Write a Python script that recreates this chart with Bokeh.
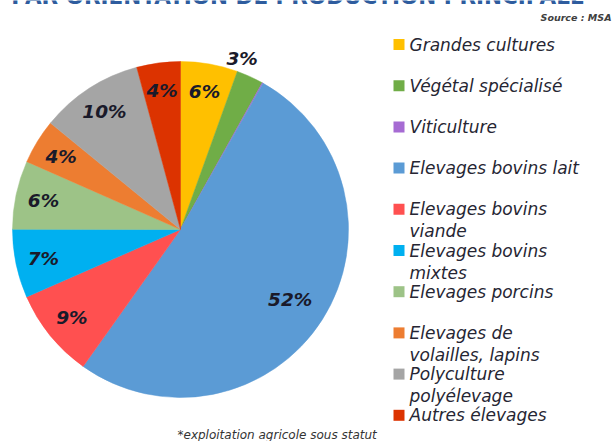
import numpy as np
from bokeh.plotting import figure
from bokeh.models import Range1d, ColumnDataSource
from bokeh.core.properties import value
from bokeh.embed import file_html
from bokeh.resources import INLINE

# ---------------- data ----------------
categories = ["Grandes cultures", "Végétal spécialisé", "Viticulture",
              "Elevages bovins lait", "Elevages bovins viande",
              "Elevages bovins mixtes", "Elevages porcins",
              "Elevages de volailles, lapins", "Polyculture polyélevage",
              "Autres élevages"]
legend_line1 = ["Grandes cultures", "Végétal spécialisé", "Viticulture",
                "Elevages bovins lait", "Elevages bovins", "Elevages bovins",
                "Elevages porcins", "Elevages de", "Polyculture",
                "Autres élevages"]
legend_line2 = ["", "", "", "", "viande", "mixtes", "", "volailles, lapins",
                "polyélevage", ""]
shares = [5.5, 2.6, 0.1, 51.7, 8.6, 6.6, 6.6, 4.3, 9.9, 4.2]
pct_labels = ["6%", "3%", "", "52%", "9%", "7%", "6%", "4%", "10%", "4%"]
colors = ["#FFC000", "#70AD47", "#A66BD3", "#5B9BD5", "#FF5050",
          "#00B0F0", "#9DC387", "#ED7D31", "#A5A5A5", "#DC3300"]
title_text = "PAR ORIENTATION DE PRODUCTION PRINCIPALE*"
source_text = "Source : MSA"
footer_text = "*exploitation agricole sous statut"

# ---------------- layout (picture pixel coordinates) ----------------
W, H = 615, 441


def Y(py):
    return H - py


p = figure(width=W, height=H, output_backend="svg", toolbar_location=None,
           x_range=Range1d(0, W), y_range=Range1d(0, H),
           min_border=0, outline_line_color=None)
p.axis.visible = False
p.grid.visible = False
p.background_fill_color = "white"
p.border_fill_color = "white"

cx, cy, R = 180, Y(229), 168

vals = np.array(shares, dtype=float)
fr = vals / vals.sum()
end_f = np.cumsum(fr)
start_f = end_f - fr
start_angle = np.pi / 2 - 2 * np.pi * end_f
end_angle = np.pi / 2 - 2 * np.pi * start_f

src = ColumnDataSource(dict(start=start_angle, end=end_angle, color=colors))
p.wedge(x=cx, y=cy, radius=R, start_angle="start", end_angle="end",
        fill_color="color", line_color="color", line_width=0.5, source=src)

# percentage labels
lx, ly, lt = [], [], []
for i, lab in enumerate(pct_labels):
    if not lab:
        continue
    if fr[i] < 0.04:
        th = np.pi / 2 - 2 * np.pi * start_f[i]
        rl = 182
    elif fr[i] > 0.4:
        th = np.pi / 2 - 2 * np.pi * (start_f[i] + fr[i] / 2)
        rl = 130
    else:
        th = np.pi / 2 - 2 * np.pi * (start_f[i] + fr[i] / 2)
        rl = 140
    lx.append(cx + rl * np.cos(th))
    ly.append(cy + rl * np.sin(th))
    lt.append(lab)
p.text(x=lx, y=ly, text=lt, text_align="center", text_baseline="middle",
       text_font=value("DejaVu Sans"), text_font_size="18.5px",
       text_font_style="bold italic", text_color="#1a1a2a")

# legend
row0, step = 44, 41.2
ry = [Y(row0 + step * i) for i in range(len(categories))]
p.rect(x=[398.5] * len(ry), y=ry, width=11, height=11, fill_color=colors,
       line_color=None)
p.text(x=[409] * len(ry), y=ry, text=legend_line1, text_align="left",
       text_baseline="middle", text_font=value("DejaVu Sans"),
       text_font_size="17px", text_font_style="italic", text_color="#262633")
l2y = [y - 22 for y, t in zip(ry, legend_line2) if t]
l2t = [t for t in legend_line2 if t]
p.text(x=[409] * len(l2y), y=l2y, text=l2t, text_align="left",
       text_baseline="middle", text_font=value("DejaVu Sans"),
       text_font_size="17px", text_font_style="italic", text_color="#262633")

# title (cut off at top, as in the source image), source, footer
p.text(x=[303], y=[Y(-4)], text=[title_text], text_align="center",
       text_baseline="alphabetic", text_font=value("DejaVu Sans"),
       text_font_size="21.5px", text_font_style="bold", text_color="#2E5C9E")
p.text(x=[611], y=[Y(17)], text=[source_text], text_align="right",
       text_baseline="middle", text_font=value("DejaVu Sans"),
       text_font_size="9.5px", text_font_style="bold italic", text_color="#404040")
p.text(x=[177], y=[Y(434)], text=[footer_text], text_align="left",
       text_baseline="middle", text_font=value("DejaVu Sans"),
       text_font_size="12px", text_font_style="italic", text_color="#333333")

open("out.html", "w").write(file_html(p, INLINE))
